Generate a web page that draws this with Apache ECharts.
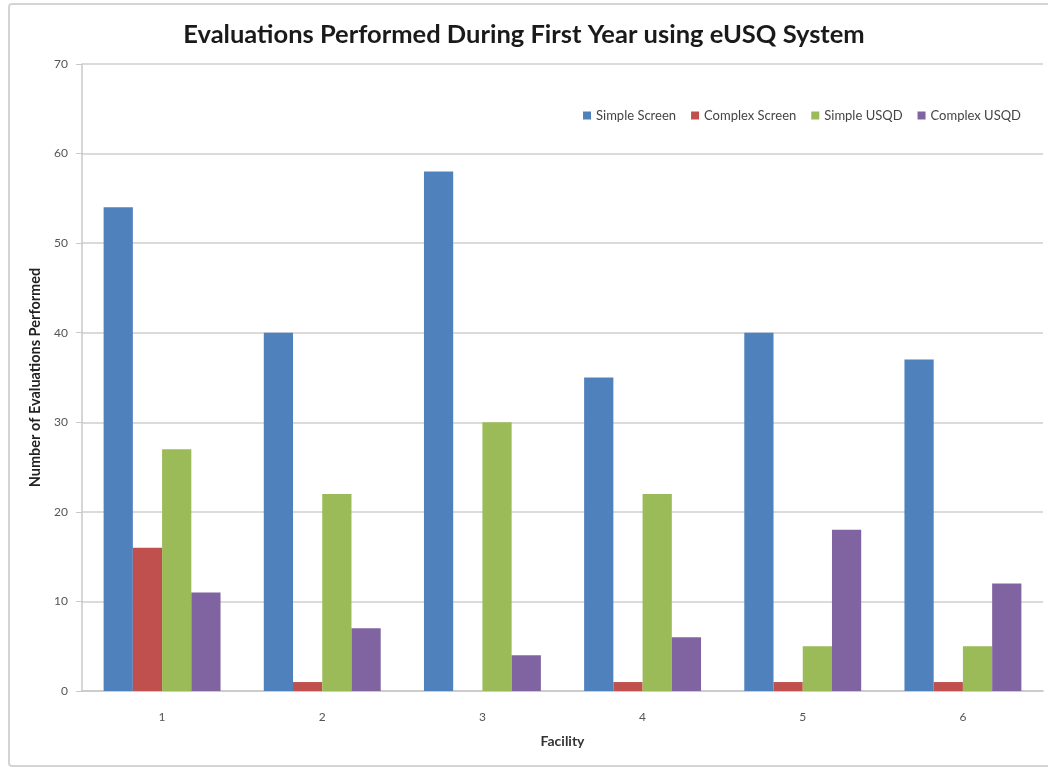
<!DOCTYPE html>
<html>
<head>
<meta charset="utf-8">
<script src="https://cdn.jsdelivr.net/npm/echarts@6/dist/echarts.min.js"></script>
<style>
html, body { margin: 0; padding: 0; background: #fff; }
#frame {
    position: absolute;
    left: 8px; top: 3px;
    width: 1048px; height: 760px;
    border: 2px solid #d4d4d4;
    border-radius: 4px;
}
#main { position: absolute; left: 0; top: 0; width: 1048px; height: 767px; }
</style>
</head>
<body>
<div id="frame"></div>
<div id="main"></div>
<script>
var facilities = ['1', '2', '3', '4', '5', '6'];
var simpleScreen = [54, 40, 58, 35, 40, 37];
var complexScreen = [16, 1, 0, 1, 1, 1];
var simpleUSQD = [27, 22, 30, 22, 5, 5];
var complexUSQD = [11, 7, 4, 6, 18, 12];

var font = 'Lato';
var myChart = echarts.init(document.getElementById('main'));

function bar(name, data, color) {
    return { name: name, type: 'bar', data: data, itemStyle: { color: color }, barGap: '0%', barCategoryGap: '27%' }
}

var option = {
    animation: false,
    title: {
        text: 'Evaluations Performed During First Year using eUSQ System',
        left: 'center',
        top: 17,
        textStyle: { fontFamily: font, fontSize: 25.5, fontWeight: 'bold', color: '#1a1a1a' }
    },
    legend: {
        right: 22,
        top: 104,
        itemWidth: 8,
        itemHeight: 8,
        itemGap: 15,
        icon: 'rect',
        textStyle: { fontFamily: font, fontSize: 13, color: '#444' }
    },
    grid: { left: 82, right: 5, top: 64, bottom: 76 },
    xAxis: {
        type: 'category',
        data: facilities,
        name: 'Facility',
        nameLocation: 'middle',
        nameGap: 43,
        nameTextStyle: { fontFamily: font, fontSize: 14, fontWeight: 'bold', color: '#333' },
        axisLine: { lineStyle: { color: '#c8c8c8', width: 1.5 } },
        axisTick: { show: false },
        axisLabel: { fontFamily: font, fontSize: 12, color: '#555', margin: 20 }
    },
    yAxis: {
        type: 'value',
        min: 0,
        max: 70,
        interval: 10,
        name: 'Number of Evaluations Performed',
        nameLocation: 'middle',
        nameGap: 37,
        nameTextStyle: { fontFamily: font, fontSize: 14.5, fontWeight: 'bold', color: '#222' },
        axisLine: { show: true, lineStyle: { color: '#c8c8c8', width: 1.5 } },
        axisTick: { show: true, length: 6, lineStyle: { color: '#c8c8c8' } },
        axisLabel: { fontFamily: font, fontSize: 12, color: '#555', margin: 14 },
        splitLine: { lineStyle: { color: '#cfcfcf', width: 1.5 } }
    },
    series: [
        bar('Simple Screen', simpleScreen, '#4F81BD'),
        bar('Complex Screen', complexScreen, '#C0504D'),
        bar('Simple USQD', simpleUSQD, '#9BBB59'),
        bar('Complex USQD', complexUSQD, '#8064A2')
    ]
};

option && myChart.setOption(option);
</script>
</body>
</html>
